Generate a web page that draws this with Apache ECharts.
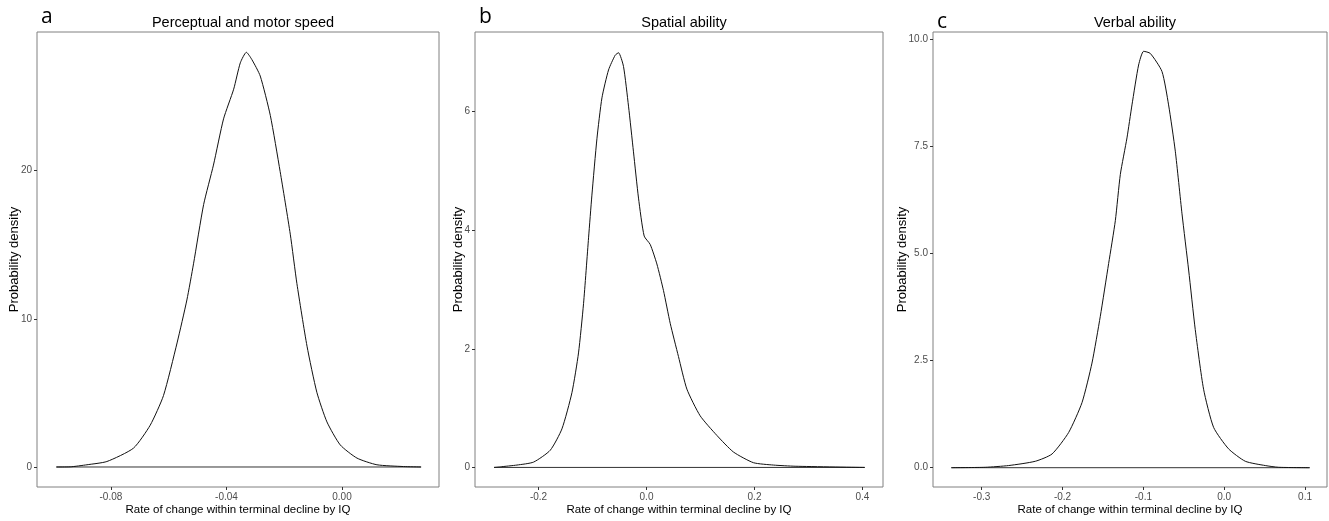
<!DOCTYPE html>
<html><head><meta charset="utf-8">
<script src="https://cdn.jsdelivr.net/npm/echarts@6/dist/echarts.min.js"></script>
<style>html,body{margin:0;padding:0;background:#fff;overflow:hidden}#c{width:1329px;height:521px}</style>
</head><body><div id="c"></div>
<script>
// Panel a: Perceptual and motor speed
const speedX = [-0.0989,-0.0941,-0.0883,-0.0814,-0.0722,-0.0664,-0.0618,-0.0571,-0.0537,-0.0514,-0.0479,-0.0445,-0.0410,-0.0375,-0.0352,-0.0331,-0.0312,-0.0283,-0.0248,-0.0214,-0.0179,-0.0156,-0.0121,-0.0087,-0.0052,-0.0006,0.0052,0.0121,0.0213,0.0274];
const speedY = [0,0.01,0.15,0.37,1.27,2.82,4.82,8.37,11.27,13.71,17.71,20.37,23.49,25.49,27.27,27.98,27.49,26.38,23.71,19.93,15.71,12.37,8.15,5.04,3.04,1.49,0.6,0.15,0.03,0];
// Panel b: Spatial ability
const spatialX = [-0.2824,-0.2708,-0.2399,-0.2091,-0.1782,-0.1566,-0.1381,-0.1259,-0.1166,-0.1073,-0.1011,-0.0918,-0.0825,-0.0703,-0.0579,-0.0518,-0.0426,-0.0333,-0.0241,-0.0148,-0.0043,0.0068,0.0192,0.0315,0.0439,0.0592,0.0748,0.0994,0.1303,0.1610,0.1980,0.2350,0.2752,0.4042];
const spatialY = [0,0.01,0.04,0.09,0.29,0.65,1.26,1.93,2.76,3.87,4.59,5.54,6.23,6.70,6.95,6.99,6.76,6.09,5.32,4.54,3.90,3.76,3.43,2.98,2.43,1.87,1.32,0.87,0.54,0.26,0.08,0.04,0.02,0];
// Panel c: Verbal ability
const verbalX = [-0.3376,-0.2956,-0.2667,-0.2337,-0.2130,-0.1925,-0.1759,-0.1636,-0.1533,-0.1430,-0.1347,-0.1285,-0.1203,-0.1141,-0.1059,-0.0997,-0.0914,-0.0770,-0.0688,-0.0605,-0.0522,-0.0440,-0.0358,-0.0255,-0.0131,0.0054,0.0261,0.0508,0.0673,0.1057];
const verbalY = [0,0.01,0.05,0.15,0.32,0.82,1.52,2.44,3.53,4.76,5.76,6.84,7.69,8.46,9.39,9.71,9.66,9.24,8.46,7.38,5.92,4.61,3.22,1.83,0.94,0.44,0.15,0.05,0.01,0];

const titles = ['Perceptual and motor speed','Spatial ability','Verbal ability'];
const letters = ['a','b','c'];
const xTicksA = [-0.08,-0.04,0.00], xLabelsA = ['-0.08','-0.04','0.00'];
const yTicksA = [0,10,20], yLabelsA = ['0','10','20'];
const xTicksB = [-0.2,0.0,0.2,0.4], xLabelsB = ['-0.2','0.0','0.2','0.4'];
const yTicksB = [0,2,4,6], yLabelsB = ['0','2','4','6'];
const xTicksC = [-0.3,-0.2,-0.1,0.0,0.1], xLabelsC = ['-0.3','-0.2','-0.1','0.0','0.1'];
const yTicksC = [0,2.5,5,7.5,10], yLabelsC = ['0.0','2.5','5.0','7.5','10.0'];
const xName = 'Rate of change within terminal decline by IQ';
const yName = 'Probability density';

const panels = [
  {x:speedX,y:speedY,xt:xTicksA,xl:xLabelsA,yt:yTicksA,yl:yLabelsA,xmin:-0.1056,xmax:0.0336,ymin:-1.35,ymax:29.35,left:37,width:402,ygap:16.5},
  {x:spatialX,y:spatialY,xt:xTicksB,xl:xLabelsB,yt:yTicksB,yl:yLabelsB,xmin:-0.3176,xmax:0.438,ymin:-0.33,ymax:7.34,left:475,width:408,ygap:10.5},
  {x:verbalX,y:verbalY,xt:xTicksC,xl:xLabelsC,yt:yTicksC,yl:yLabelsC,xmin:-0.3603,xmax:0.1272,ymin:-0.45,ymax:10.16,left:933,width:394,ygap:24.5}
];

const font = 'Liberation Sans, Arial, sans-serif';
const grid=[],xAxis=[],yAxis=[],series=[],title=[],graphic=[];
panels.forEach((p,i)=>{
  grid.push({left:p.left,top:32,width:p.width,height:460,show:true,borderColor:'#808080',borderWidth:1,containLabel:false});
  const fx = v => { const k = p.xt.findIndex(t=>Math.abs(t-v)<1e-9); return k>=0?p.xl[k]:''; };
  const fy = v => { const k = p.yt.findIndex(t=>Math.abs(t-v)<1e-9); return k>=0?p.yl[k]:''; };
  xAxis.push({type:'value',gridIndex:i,min:p.xmin,max:p.xmax,position:'bottom',
    axisLine:{show:false,onZero:false},splitLine:{show:false},
    axisTick:{show:true,length:3,customValues:p.xt,lineStyle:{color:'#333'}},
    axisLabel:{customValues:p.xt,formatter:fx,color:'#4d4d4d',fontSize:10,fontFamily:font,margin:5},
    name:xName,nameLocation:'middle',nameGap:17,nameMoveOverlap:false,nameTextStyle:{color:'#000',fontSize:11.5,fontFamily:font}});
  yAxis.push({type:'value',gridIndex:i,min:p.ymin,max:p.ymax,position:'left',
    axisLine:{show:false,onZero:false},splitLine:{show:false},
    axisTick:{show:true,length:3,customValues:p.yt,lineStyle:{color:'#333'}},
    axisLabel:{customValues:p.yt,formatter:fy,color:'#4d4d4d',fontSize:10,fontFamily:font,margin:5},
    name:yName,nameLocation:'middle',nameGap:p.ygap,nameRotate:90,nameMoveOverlap:false,nameTextStyle:{color:'#000',fontSize:13,fontFamily:font}});
  const pts = p.x.map((v,k)=>[v,p.y[k]]);
  series.push({type:'line',xAxisIndex:i,yAxisIndex:i,data:[[p.x[0],0],[p.x[p.x.length-1],0]],symbol:'none',silent:true,
    lineStyle:{color:'#333',width:1}});
  series.push({type:'line',xAxisIndex:i,yAxisIndex:i,data:pts,symbol:'none',smooth:0.2,silent:true,
    lineStyle:{color:'#111',width:1}});
  title.push({text:titles[i],left:p.left+p.width/2,top:10,textAlign:'center',
    textStyle:{fontSize:14.5,fontWeight:'normal',color:'#000',fontFamily:font}});
  graphic.push({type:'text',left:p.left+4,top:i===2?12:7,style:{text:letters[i],fontSize:21,fill:'#000',fontFamily:'Open Sans, sans-serif'}});
});

const chart = echarts.init(document.getElementById('c'),null,{renderer:'canvas'});
chart.setOption({animation:false,backgroundColor:'#fff',title,grid,xAxis,yAxis,series,graphic});
</script></body></html>
